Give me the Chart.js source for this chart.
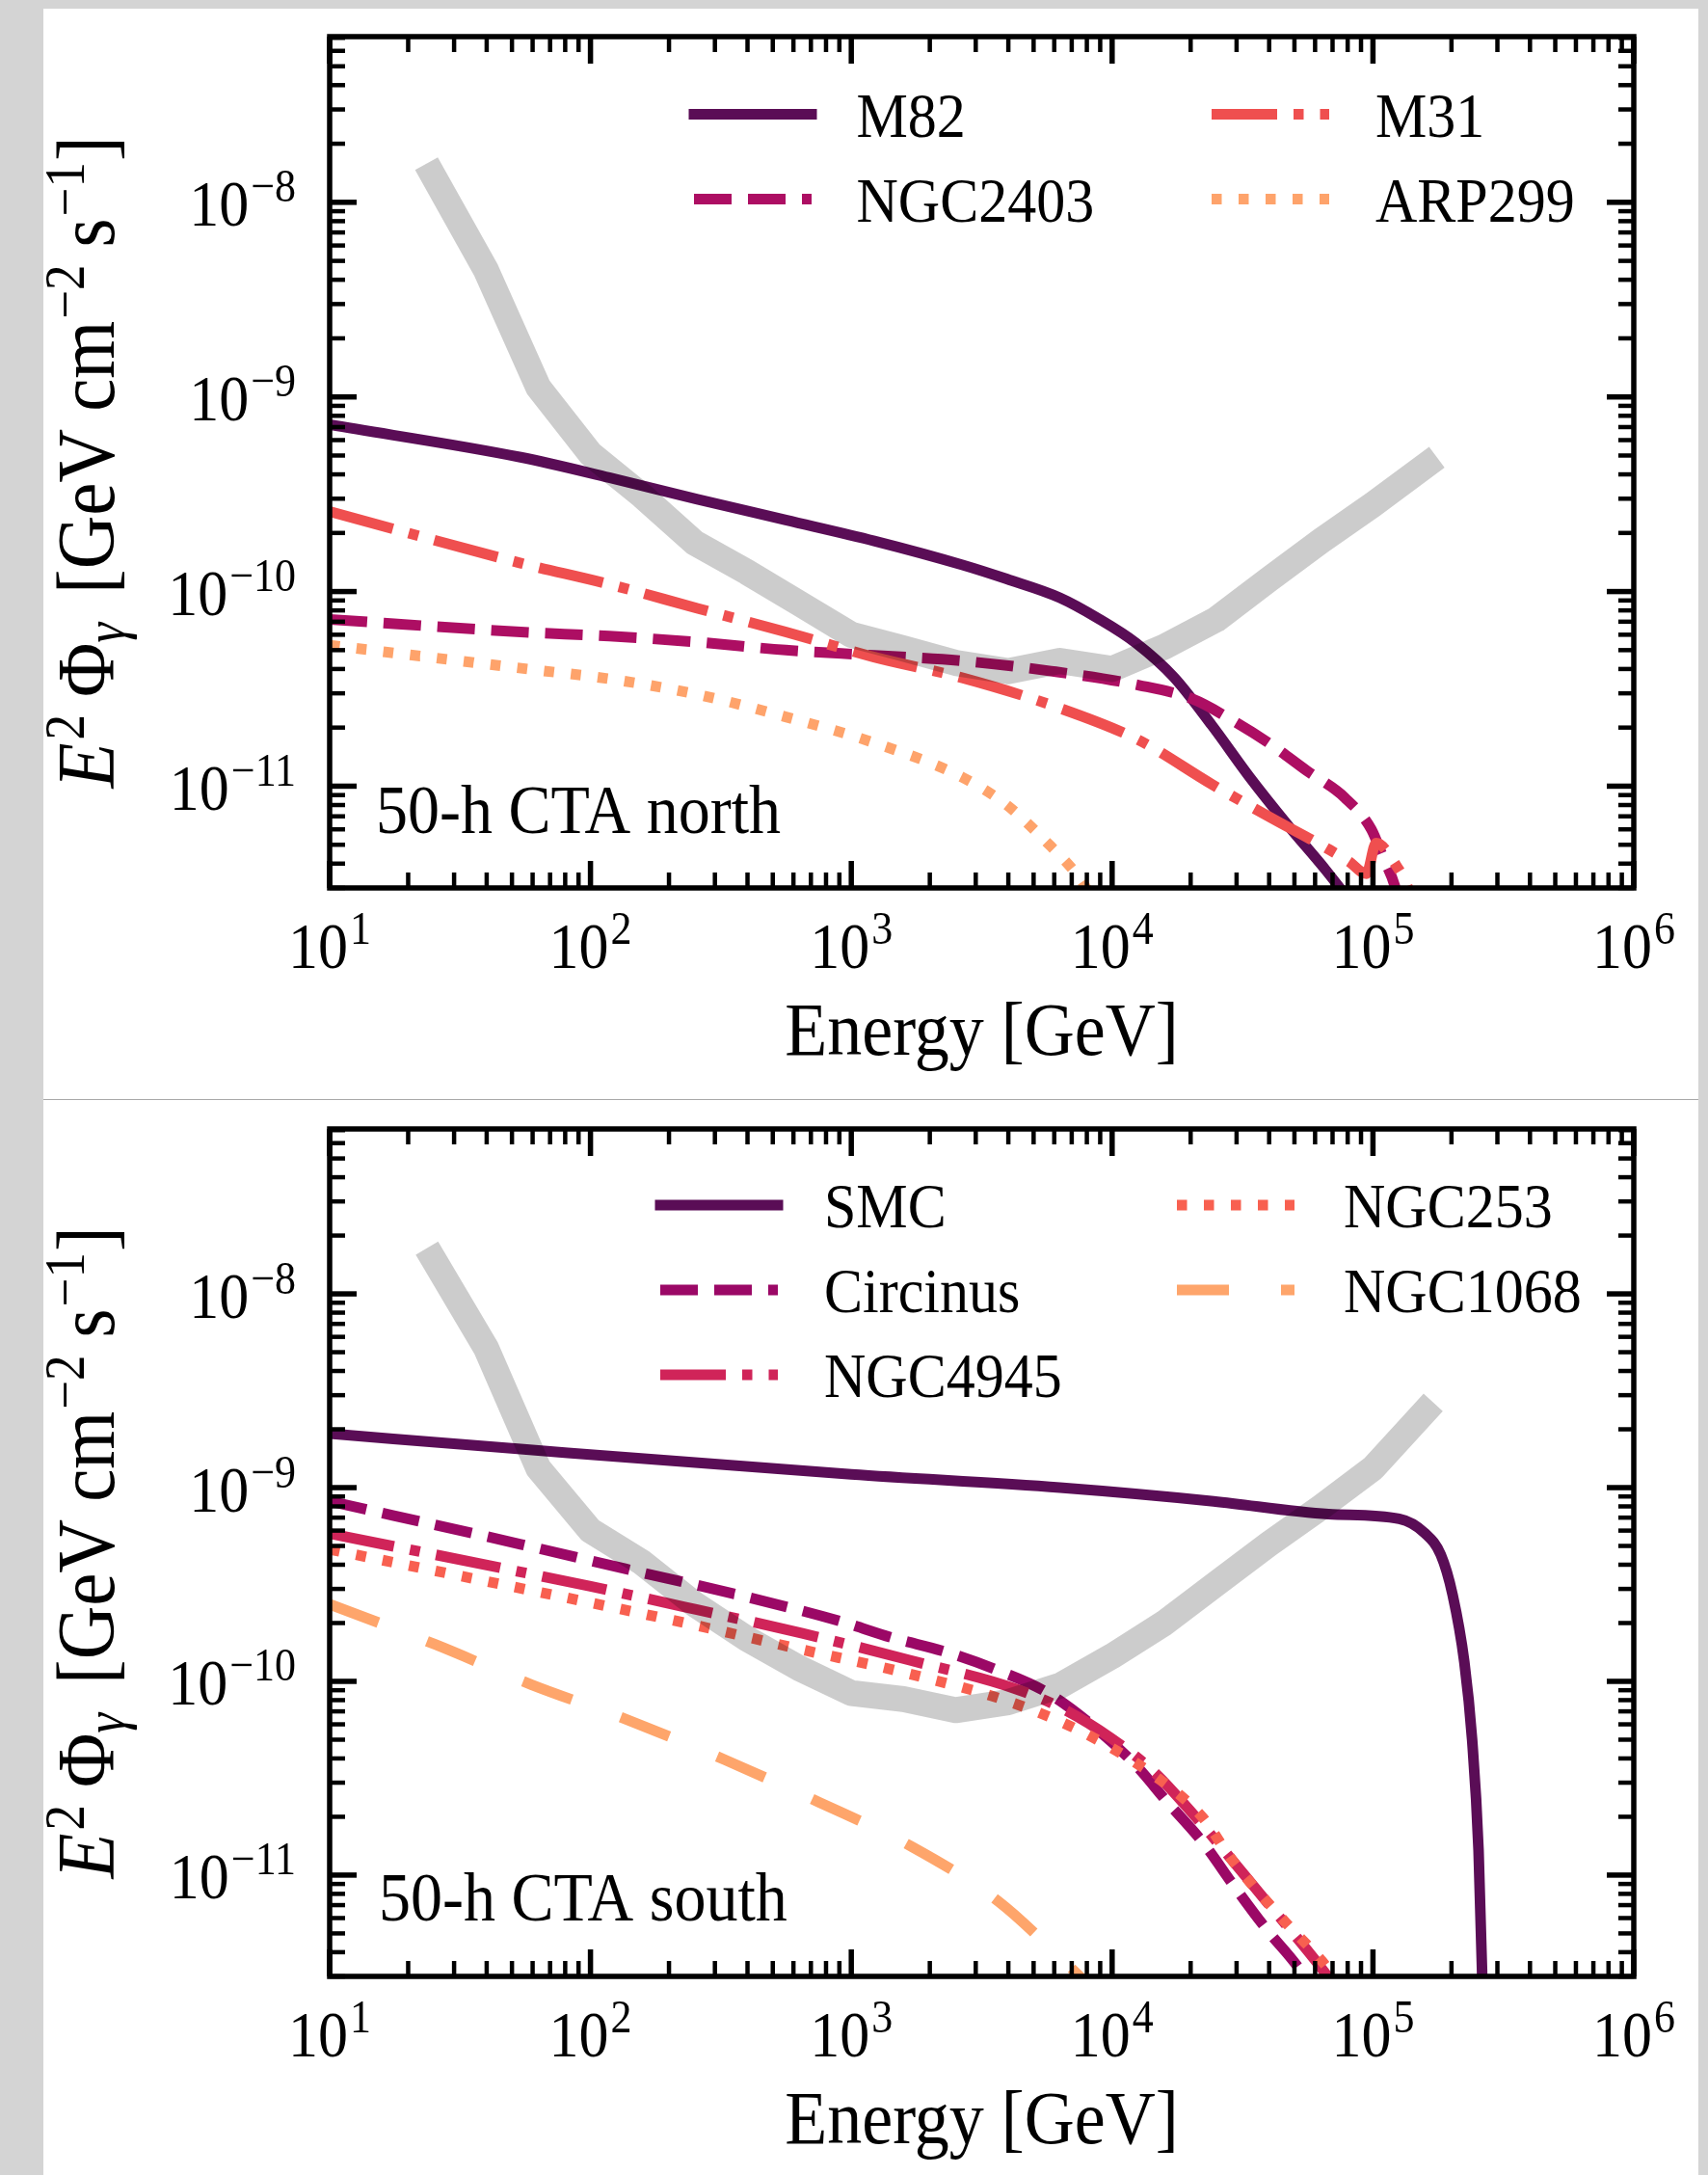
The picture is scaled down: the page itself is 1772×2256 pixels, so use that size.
<!DOCTYPE html>
<html>
<head>
<meta charset="utf-8">
<title>Galaxy gamma-ray spectra vs CTA sensitivity</title>
<script src="https://cdn.jsdelivr.net/npm/chart.js@4.4.1/dist/chart.umd.min.js"></script>
<style>
  html, body { margin: 0; padding: 0; background: #d4d4d4; }
  body { width: 1772px; height: 2256px; position: relative; overflow: hidden; }
  #sheet { position: absolute; left: 45px; top: 9px; width: 1717px; height: 2247px; background: #fff; }
  #north { position: absolute; left: 0; top: 0; }
  #rule { position: absolute; left: 0; top: 1131px; width: 1717px; height: 1px; background: #a8a8a8; }
  #south { position: absolute; left: 0; top: 1132px; }
</style>
</head>
<body>
<div id="sheet">
  <canvas id="north" width="1717" height="1131"></canvas>
  <div id="rule"></div>
  <canvas id="south" width="1717" height="1115"></canvas>
</div>
<script>
// axis ranges and labelled decades
const energyRange = [10, 1e6];
const fluxRange = [3e-12, 7.1e-8];
const energyDecades = [1e1, 1e2, 1e3, 1e4, 1e5, 1e6];
const fluxDecades = [1e-11, 1e-10, 1e-9, 1e-8];

// ---- north panel ----
const northSensE = [23.5, 39.8, 63.1, 100, 158, 251, 398, 631, 1000, 1585, 2512, 3981, 6310, 10000, 15850, 25120, 39810, 63100, 100000, 175800];
const northSensF = [1.58e-8, 4.47e-9, 1.12e-9, 5.1e-10, 3.1e-10, 1.78e-10, 1.26e-10, 8.7e-11, 6.0e-11, 5.1e-11, 4.3e-11, 3.9e-11, 4.4e-11, 4.0e-11, 5.2e-11, 7.2e-11, 1.15e-10, 1.82e-10, 2.8e-10, 4.9e-10];

const m82E = [10, 54, 118, 257, 561, 1225, 2670, 3945, 6300, 8810, 12330, 17260, 24150, 33730, 47200, 66000, 100000];
const m82F = [7.2e-10, 4.9e-10, 3.85e-10, 2.98e-10, 2.33e-10, 1.82e-10, 1.37e-10, 1.16e-10, 9.3e-11, 7.3e-11, 5.45e-11, 3.63e-11, 2.05e-11, 1.11e-11, 6.3e-12, 3.7e-12, 1.8e-12];

const ngc2403E = [10, 54, 118, 257, 561, 1225, 2670, 5830, 12700, 20400, 28600, 39800, 55800, 78200, 98600, 109400, 121000, 141000];
const ngc2403F = [7.2e-11, 6.2e-11, 5.9e-11, 5.5e-11, 5.0e-11, 4.7e-11, 4.4e-11, 3.9e-11, 3.3e-11, 2.8e-11, 2.2e-11, 1.67e-11, 1.2e-11, 8.7e-12, 6.0e-12, 4.3e-12, 3.1e-12, 1.3e-12];

const m31E = [10, 54, 118, 257, 561, 1225, 2670, 6030, 12700, 24200, 41300, 68400, 80900, 94400, 102800, 124500, 134900, 158500];
const m31F = [2.58e-10, 1.4e-10, 1.09e-10, 8.2e-11, 6.2e-11, 4.6e-11, 3.6e-11, 2.57e-11, 1.72e-11, 1.02e-11, 6.8e-12, 4.7e-12, 4.1e-12, 3.55e-12, 5.1e-12, 3.8e-12, 3.1e-12, 1.6e-12];

const arp299E = [10, 63, 118, 257, 561, 1225, 2670, 3945, 5830, 7100, 7940, 8900];
const arp299F = [5.3e-11, 3.94e-11, 3.56e-11, 2.96e-11, 2.27e-11, 1.67e-11, 1.11e-11, 8.0e-12, 4.9e-12, 3.7e-12, 3.0e-12, 2.2e-12];

// ---- south panel ----
const southSensE = [23.6, 39.8, 63.1, 100, 158, 251, 398, 631, 1000, 1585, 2512, 3981, 6310, 10000, 15850, 25120, 39810, 63100, 100000, 170200];
const southSensF = [1.72e-8, 5.25e-9, 1.26e-9, 6.0e-10, 4.1e-10, 2.5e-10, 1.66e-10, 1.17e-10, 8.7e-11, 8.1e-11, 7.1e-11, 7.8e-11, 9.5e-11, 1.35e-10, 2.0e-10, 3.2e-10, 5.1e-10, 7.9e-10, 1.26e-9, 2.75e-9];

const smcE = [10, 54, 1000, 6310, 24500, 67600, 126000, 158500, 182000, 202000, 224000, 240000, 254000, 262000, 269000];
const smcF = [1.9e-9, 1.58e-9, 1.17e-9, 1.0e-9, 8.5e-10, 7.3e-10, 6.9e-10, 5.8e-10, 4.5e-10, 2.8e-10, 1.26e-10, 5.0e-11, 1.35e-11, 3.2e-12, 5e-13];

const circinusE = [10, 54, 137, 351, 898, 1435, 2300, 3530, 5520, 7940, 12300, 16200, 22400, 29500, 39300, 51200, 63100];
const circinusF = [8.5e-10, 5.1e-10, 3.8e-10, 2.84e-10, 2.05e-10, 1.68e-10, 1.42e-10, 1.16e-10, 8.9e-11, 6.3e-11, 3.7e-11, 2.4e-11, 1.46e-11, 8.7e-12, 5.2e-12, 3.4e-12, 2.2e-12];

const ngc4945E = [10, 99, 254, 649, 1660, 4210, 6500, 9890, 14500, 20600, 37800, 62500, 79400];
const ngc4945F = [5.8e-10, 3.1e-10, 2.35e-10, 1.77e-10, 1.29e-10, 9.2e-11, 7.2e-11, 5.1e-11, 3.4e-11, 2.04e-11, 7.7e-12, 3.4e-12, 2.2e-12];

const ngc253E = [10, 98, 252, 644, 1640, 4210, 8180, 15000, 22200, 28800, 46200, 63700, 79400];
const ngc253F = [4.8e-10, 2.56e-10, 1.95e-10, 1.46e-10, 1.1e-10, 7.7e-11, 5.25e-11, 3.16e-11, 1.99e-11, 1.2e-11, 5.7e-12, 3.6e-12, 2.4e-12];

const ngc1068E = [10, 25.4, 59.6, 140, 327, 750, 1710, 3670, 6590, 8910];
const ngc1068F = [2.5e-10, 1.55e-10, 9.6e-11, 6.3e-11, 3.94e-11, 2.38e-11, 1.4e-11, 7.3e-12, 3.55e-12, 2.4e-12];

// ---- styles ----
const SERIF = '"Liberation Serif", "DejaVu Serif", serif';
const STRETCH = 1.1;   // text is drawn a little taller than the font's own proportions
const LW = 11;
const DASHED = [39, 17];
const DASHDOT = [68, 17, 10.5, 17];
const DOTTED = [10.5, 17.5];
const LOOSE = [54, 54];

const styles = {
  M82:      { color: '#5a0d56', dash: [] },
  NGC2403:  { color: '#ad0e63', dash: DASHED },
  M31:      { color: '#ef4f4f', dash: DASHDOT },
  ARP299:   { color: '#fea36b', dash: DOTTED },
  SMC:      { color: '#5a0d56', dash: [] },
  Circinus: { color: '#9b0866', dash: DASHED },
  NGC4945:  { color: '#d02459', dash: DASHDOT },
  NGC253:   { color: '#f86050', dash: DOTTED },
  NGC1068:  { color: '#fea56b', dash: LOOSE }
};

function points(E, F) {
  return E.map((e, i) => ({ x: e, y: F[i] }));
}

// later series sit on top, the sensitivity band on top of everything
function curve(label, E, F, i) {
  const s = styles[label];
  return {
    label,
    data: points(E, F),
    borderColor: s.color,
    borderWidth: LW,
    borderDash: s.dash,
    borderCapStyle: s.dash.length ? 'butt' : 'square',
    borderJoinStyle: 'round',
    pointRadius: 0,
    showLine: true,
    cubicInterpolationMode: 'monotone',
    capBezierPoints: false,
    clip: 0,
    order: 20 - i
  };
}

function band(E, F) {
  return {
    label: 'sensitivity',
    data: points(E, F),
    borderColor: 'rgba(0,0,0,0.2)',
    borderWidth: 27,
    borderCapStyle: 'butt',
    borderJoinStyle: 'round',
    pointRadius: 0,
    showLine: true,
    tension: 0,
    clip: 0,
    order: 0
  };
}

// ---- drawing helpers ----
function fontOf(size, italic) {
  return (italic ? 'italic ' : '') + size + 'px ' + SERIF;
}

function drawRuns(ctx, runs, x, y, align, angle) {
  ctx.save();
  ctx.translate(x, y);
  if (angle) ctx.rotate(angle);
  ctx.fillStyle = '#000';
  ctx.textAlign = 'left';
  ctx.textBaseline = 'alphabetic';
  let total = 0;
  const widths = runs.map(r => {
    ctx.font = fontOf(r.size, r.italic);
    const w = (r.t ? ctx.measureText(r.t).width : 0) + (r.gap || 0);
    total += w;
    return w;
  });
  let cx = align === 'center' ? -total / 2 : align === 'right' ? -total : 0;
  runs.forEach((r, i) => {
    if (r.t) {
      ctx.font = fontOf(r.size, r.italic);
      ctx.save();
      ctx.translate(cx + (r.pre || 0), -(r.rise || 0));
      ctx.scale(1, STRETCH);
      ctx.fillText(r.t, 0, 0);
      ctx.restore();
    }
    cx += widths[i];
  });
  ctx.restore();
}

function power(n) {
  const exp = (n < 0 ? '\u2212' : '') + Math.abs(n);
  return [{ t: '10', size: 62 }, { gap: 2 }, { t: exp, size: 44, rise: 25 }];
}

function drawFrame(chart) {
  const { ctx, chartArea: a, scales: { x, y } } = chart;
  ctx.save();
  ctx.strokeStyle = '#000';
  ctx.lineCap = 'butt';
  const tick = (x0, y0, x1, y1, major) => {
    ctx.lineWidth = major ? 5.5 : 4.5;
    ctx.beginPath();
    ctx.moveTo(x0, y0);
    ctx.lineTo(x1, y1);
    ctx.stroke();
  };
  for (let d = Math.floor(Math.log10(x.min)); d <= Math.ceil(Math.log10(x.max)); d++) {
    for (let m = 1; m <= 9; m++) {
      const v = m * Math.pow(10, d);
      if (v < x.min * 0.999 || v > x.max * 1.001) continue;
      const px = x.getPixelForValue(v);
      const len = m === 1 ? 28 : 16;
      tick(px, a.bottom, px, a.bottom - len, m === 1);
      tick(px, a.top, px, a.top + len, m === 1);
    }
  }
  for (let d = Math.floor(Math.log10(y.min)); d <= Math.ceil(Math.log10(y.max)); d++) {
    for (let m = 1; m <= 9; m++) {
      const v = m * Math.pow(10, d);
      if (v < y.min * 0.999 || v > y.max * 1.001) continue;
      const py = y.getPixelForValue(v);
      const len = m === 1 ? 28 : 16;
      tick(a.left, py, a.left + len, py, m === 1);
      tick(a.right, py, a.right - len, py, m === 1);
    }
  }
  ctx.lineWidth = 5.5;
  ctx.strokeRect(a.left, a.top, a.right - a.left, a.bottom - a.top);
  ctx.restore();
}

function drawAxisText(chart, lay) {
  const { ctx, chartArea: a, scales: { x, y } } = chart;
  energyDecades.forEach(v => {
    drawRuns(ctx, power(Math.round(Math.log10(v))), x.getPixelForValue(v), a.bottom + 82.5, 'center');
  });
  fluxDecades.forEach(v => {
    drawRuns(ctx, power(Math.round(Math.log10(v))), a.left - 35, y.getPixelForValue(v) + 24.5, 'right');
  });
  drawRuns(ctx, [{ t: 'Energy [GeV]', size: 72 }], (a.left + a.right) / 2, a.bottom + 173, 'center');
  const yTitle = [
    { t: 'E', size: 77, italic: true },
    { t: '2', size: 53, rise: 31, pre: 3, gap: 3 },
    { gap: 18 },
    { t: '\u03A6', size: 77 },
    { t: '\u03B3', size: 53, italic: true, rise: -11, gap: 2 },
    { gap: 28 },
    { t: '[GeV', size: 77 },
    { gap: 18 },
    { t: 'cm', size: 77 },
    { t: '\u22122', size: 53, rise: 31, pre: 2, gap: 2 },
    { gap: 18 },
    { t: 's', size: 77 },
    { t: '\u22121', size: 53, rise: 31, pre: 2, gap: 3 },
    { t: ']', size: 77 }
  ];
  drawRuns(ctx, yTitle, lay.yTitleX, (a.top + a.bottom) / 2, 'center', -Math.PI / 2);
  drawRuns(ctx, [{ t: lay.note, size: 66 }], lay.noteX, lay.noteY, 'left');
}

function drawLegend(ctx, labels, lg) {
  ctx.save();
  labels.forEach((label, i) => {
    const s = styles[label];
    const col = lg.cols[Math.floor(i / lg.rows)];
    const yy = lg.y0 + (i % lg.rows) * lg.dy;
    ctx.strokeStyle = s.color;
    ctx.lineWidth = LW;
    ctx.setLineDash(s.dash);
    ctx.lineCap = s.dash.length ? 'butt' : 'square';
    ctx.beginPath();
    ctx.moveTo(col.from, yy);
    ctx.lineTo(col.to, yy);
    ctx.stroke();
    ctx.setLineDash([]);
    drawRuns(ctx, [{ t: label, size: 60 }], col.text, yy + 23, 'left');
  });
  ctx.restore();
}

function decor(labels, lay) {
  return {
    id: 'decor',
    afterDatasetsDraw(chart) {
      drawFrame(chart);
      drawAxisText(chart, lay);
      drawLegend(chart.ctx, labels, lay.legend);
    }
  };
}

function panel(id, datasets, labels, lay) {
  return new Chart(document.getElementById(id), {
    type: 'scatter',
    data: { datasets },
    options: {
      responsive: false,
      animation: false,
      devicePixelRatio: 1,
      events: [],
      layout: { padding: lay.padding },
      scales: {
        x: { type: 'logarithmic', min: energyRange[0], max: energyRange[1], display: false },
        y: { type: 'logarithmic', min: fluxRange[0], max: fluxRange[1], display: false }
      },
      plugins: { legend: { display: false }, tooltip: { enabled: false } }
    },
    plugins: [decor(labels, lay)]
  });
}

// ---- charts ----
const northLabels = ['M82', 'NGC2403', 'M31', 'ARP299'];
const northSeries = [[m82E, m82F], [ngc2403E, ngc2403F], [m31E, m31F], [arp299E, arp299F]];

const southLabels = ['SMC', 'Circinus', 'NGC4945', 'NGC253', 'NGC1068'];
const southSeries = [[smcE, smcF], [circinusE, circinusF], [ngc4945E, ngc4945F], [ngc253E, ngc253F], [ngc1068E, ngc1068F]];

panel('north',
  [band(northSensE, northSensF)].concat(northLabels.map((l, i) => curve(l, northSeries[i][0], northSeries[i][1], i))),
  northLabels,
  {
    padding: { left: 297, right: 67, top: 29, bottom: 219 },
    legend: { rows: 2, y0: 109.6, dy: 88, cols: [{ from: 675, to: 797, text: 843.5 }, { from: 1212, to: 1334, text: 1382 }] },
    note: '50-h CTA north', noteX: 345, noteY: 855,
    yTitleX: 73
  });

panel('south',
  [band(southSensE, southSensF)].concat(southLabels.map((l, i) => curve(l, southSeries[i][0], southSeries[i][1], i))),
  southLabels,
  {
    padding: { left: 297, right: 67, top: 30, bottom: 206 },
    legend: { rows: 3, y0: 109, dy: 88, cols: [{ from: 640, to: 762, text: 810 }, { from: 1176, to: 1298, text: 1349 }] },
    note: '50-h CTA south', noteX: 348, noteY: 851,
    yTitleX: 73
  });
</script>
</body>
</html>
